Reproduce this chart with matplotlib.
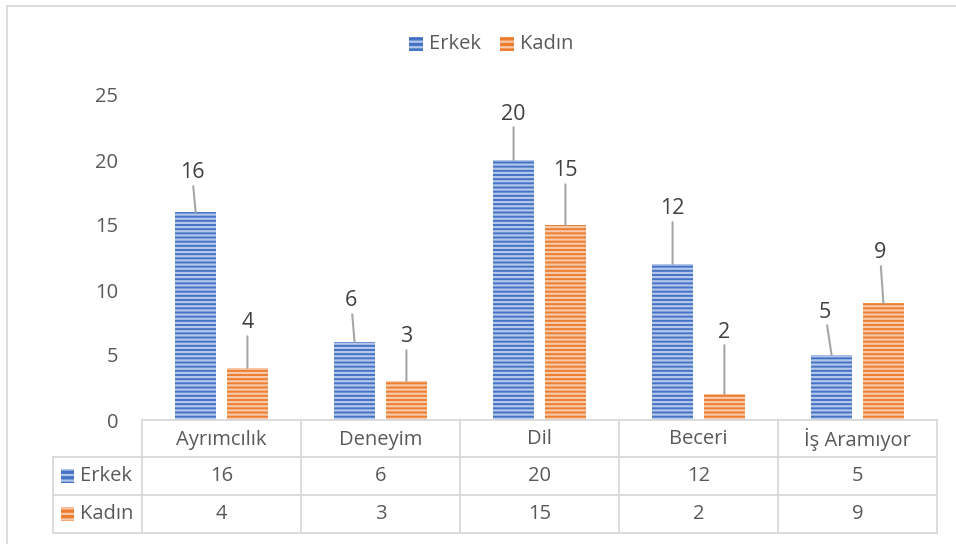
import matplotlib
matplotlib.use("Agg")
import matplotlib.pyplot as plt
from matplotlib.patches import Rectangle
from matplotlib.transforms import blended_transform_factory
from matplotlib.lines import Line2D

plt.rcParams['font.family'] = ['Open Sans', 'DejaVu Sans']
plt.rcParams['hatch.linewidth'] = 1.6

categories = ["Ayrımcılık", "Deneyim", "Dil", "Beceri", "İş Aramıyor"]
series_names = ["Erkek", "Kadın"]
erkek = [16, 6, 20, 12, 5]
kadin = [4, 3, 15, 2, 9]
yticks = [0, 5, 10, 15, 20, 25]

# label offsets in pixels (dx, dy) — styling only
erkek_off = [(-3.5, 39), (-3.5, 41), (0, 46), (0, 55), (-6.5, 43)]
kadin_off = [(0, 45), (0, 44), (0, 54), (0, 62), (-3.5, 50)]

W, H = 956, 544
fig = plt.figure(figsize=(W / 100, H / 100), dpi=100)
fig.patch.set_facecolor("white")

FS = 14.5
FS_LAB = 15.5

def fx(px):
    return px / W

def fy(py):
    return 1 - py / H

ax_left, ax_right, ax_top, ax_bottom = 142, 937, 95, 420
ax = fig.add_axes([fx(ax_left), fy(ax_bottom), fx(ax_right - ax_left), (ax_bottom - ax_top) / H])

blue = "#4472C4"
blue_h = "#B4C7EB"
orange = "#ED7D31"
orange_h = "#F8C9A8"
text_gray = "#595959"
label_col = "#404040"
grid_col = "#D9D9D9"

w = 0.26
off = 0.163
x = list(range(len(categories)))
b1 = ax.bar([i - off for i in x], erkek, width=w, color=blue, edgecolor=blue_h,
            linewidth=0, hatch="----")
b2 = ax.bar([i + off for i in x], kadin, width=w, color=orange, edgecolor=orange_h,
            linewidth=0, hatch="----")

ax.set_xlim(-0.5, len(categories) - 0.5)
ax.set_ylim(0, 25)
ax.set_yticks(yticks)
ax.tick_params(axis='y', length=0, pad=17, labelsize=FS, labelcolor=text_gray)
ax.set_xticks([])
for s in ax.spines.values():
    s.set_visible(False)

for bars, vals, offs in ((b1, erkek, erkek_off), (b2, kadin, kadin_off)):
    for rect, v, (dx, dy) in zip(bars, vals, offs):
        cx = rect.get_x() + rect.get_width() / 2
        ax.annotate(str(v), xy=(cx, v), xytext=(dx, dy), textcoords='offset pixels',
                    ha='center', va='center', fontsize=FS_LAB, color=label_col,
                    arrowprops=dict(arrowstyle='-', color='#A6A6A6', lw=1.5,
                                    shrinkA=0, shrinkB=0))

# Data table
trans = blended_transform_factory(ax.transData, fig.transFigure)
row_lines = [420, 457, 495, 533]
left_px = 53
lw_t = 1.3

def hline(x0, x1, y):
    fig.add_artist(Line2D([fx(x0), fx(x1)], [fy(y), fy(y)], color=grid_col, lw=lw_t,
                          transform=fig.transFigure))

def vline(xp, y0, y1):
    fig.add_artist(Line2D([fx(xp), fx(xp)], [fy(y0), fy(y1)], color=grid_col, lw=lw_t,
                          transform=fig.transFigure))

hline(ax_left, ax_right, row_lines[0])
for yy in row_lines[1:]:
    hline(left_px, ax_right, yy)
vline(left_px, row_lines[1], row_lines[3])
for k in range(len(categories) + 1):
    xb = k - 0.5
    xpix = ax.transData.transform((xb, 0))[0]
    vline(xpix, row_lines[0], row_lines[3])

for i, c in enumerate(categories):
    fig.text(i, fy((row_lines[0] + row_lines[1]) / 2 + 1), c, transform=trans,
             ha='center', va='center', fontsize=FS, color=text_gray)
    fig.text(i, fy((row_lines[1] + row_lines[2]) / 2), str(erkek[i]), transform=trans,
             ha='center', va='center', fontsize=FS, color=text_gray)
    fig.text(i, fy((row_lines[2] + row_lines[3]) / 2), str(kadin[i]), transform=trans,
             ha='center', va='center', fontsize=FS, color=text_gray)

for r, (name, col, hc) in enumerate(zip(series_names, [blue, orange], [blue_h, orange_h])):
    yc = (row_lines[r + 1] + row_lines[r + 2]) / 2
    fig.add_artist(Rectangle((fx(61), fy(yc + 7)), fx(13), 14 / H, facecolor=col,
                             edgecolor=hc, linewidth=0, hatch='---',
                             transform=fig.transFigure))
    fig.text(fx(80), fy(yc), name, ha='left', va='center', fontsize=FS, color=text_gray)

# Top legend
for name, col, hc, xs in zip(series_names, [blue, orange], [blue_h, orange_h], [409, 500]):
    fig.add_artist(Rectangle((fx(xs), fy(51)), fx(14), 14 / H, facecolor=col,
                             edgecolor=hc, linewidth=0, hatch='---',
                             transform=fig.transFigure))
    fig.text(fx(xs + 20), fy(44), name, ha='left', va='center', fontsize=FS, color=text_gray)

# chart border (top and left visible)
hline(7, W, 6)
vline(7, 6, H)

fig.savefig("out.png", dpi=100, facecolor="white")
